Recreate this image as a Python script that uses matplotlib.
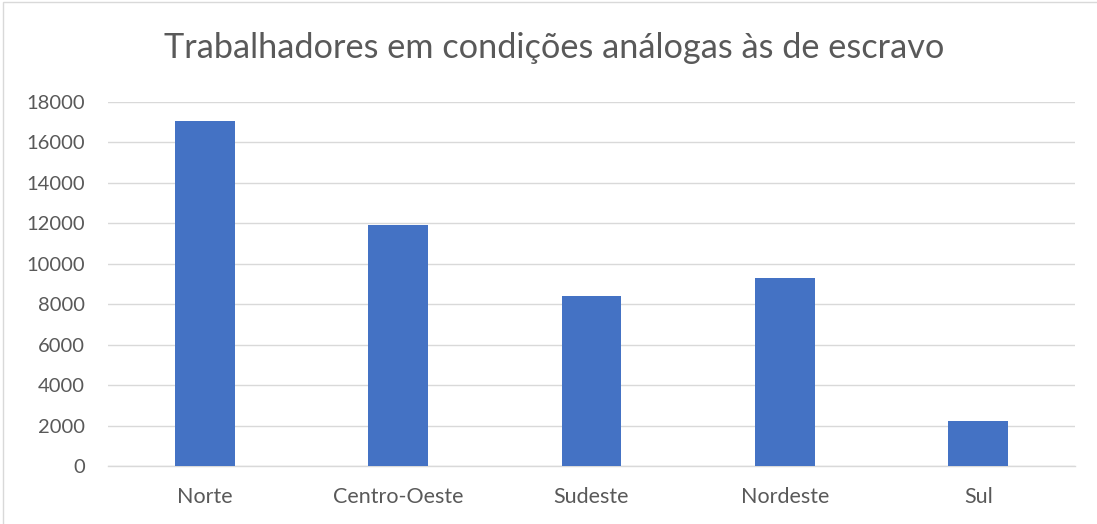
import numpy as np
import matplotlib.pyplot as plt
from matplotlib.patches import Rectangle

regioes = ['Norte', 'Centro-Oeste', 'Sudeste', 'Nordeste', 'Sul']
trabalhadores = [17040, 11920, 8410, 9320, 2250]
y_ticks = [0, 2000, 4000, 6000, 8000, 10000, 12000, 14000, 16000, 18000]

plt.rcParams['font.family'] = ['Lato', 'DejaVu Sans']
text_color = '#595959'
grid_color = '#d9d9d9'

fig = plt.figure(figsize=(10.97, 5.24), dpi=100)
ax = fig.add_axes([108 / 1097, 1 - 466 / 524, (1075 - 108) / 1097, (466 - 102) / 524])

x = np.arange(len(regioes))
ax.bar(x, trabalhadores, width=0.31, color='#4472c4', zorder=3)

ax.set_xlim(-0.5, len(regioes) - 0.5)
ax.set_ylim(0, 18000)
ax.set_yticks(y_ticks)
ax.set_yticklabels([str(v) for v in y_ticks])
ax.set_xticks(x)
ax.set_xticklabels(regioes)
ax.grid(axis='y', color=grid_color, linewidth=1.0, zorder=0)
for s in ['top', 'right', 'left']:
    ax.spines[s].set_visible(False)
ax.spines['bottom'].set_color(grid_color)
ax.spines['bottom'].set_linewidth(1.0)
ax.tick_params(axis='both', length=0, colors=text_color)
ax.tick_params(axis='y', pad=16.5, labelsize=14.5)
ax.tick_params(axis='x', pad=15, labelsize=15.5)

fig.text(554 / 1097, 1 - 48 / 524, 'Trabalhadores em condições análogas às de escravo',
         ha='center', va='center', fontsize=24.7, color=text_color)

# chart frame
fig.patches.append(Rectangle((3 / 1097, -0.01), 1.2, 1 - 2 / 524 + 0.01, transform=fig.transFigure,
                             fill=False, edgecolor=grid_color, linewidth=1.0))

fig.savefig('out.png', dpi=100, facecolor='white')
